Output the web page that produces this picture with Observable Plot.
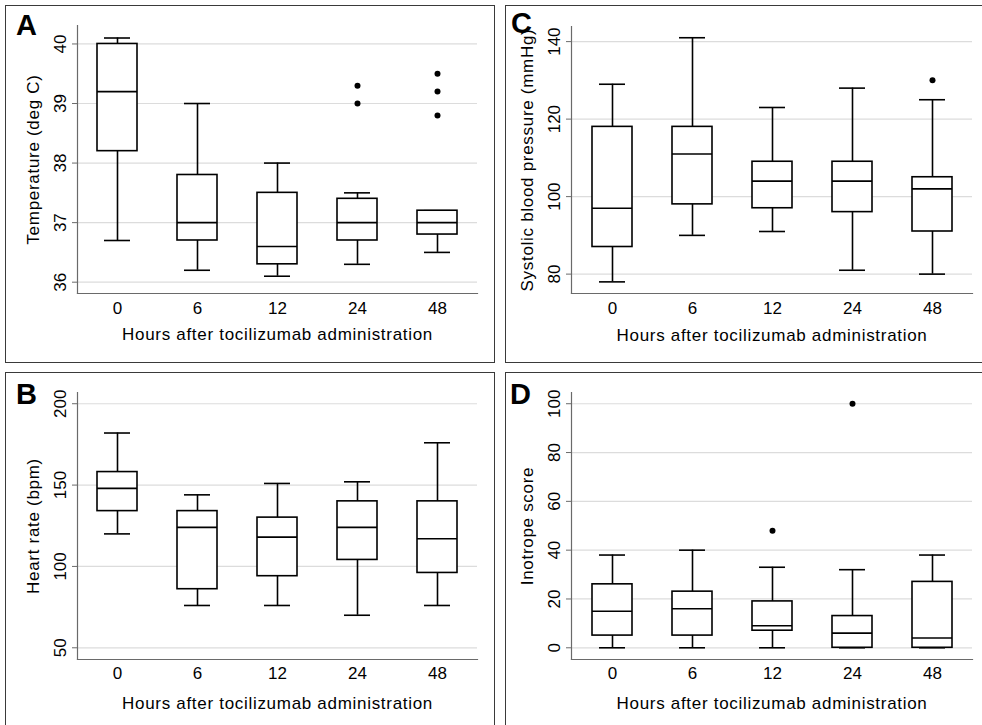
<!DOCTYPE html>
<html>
<head>
<meta charset="utf-8">
<script src="https://cdn.jsdelivr.net/npm/d3@7"></script>
<script src="https://cdn.jsdelivr.net/npm/@observablehq/plot@0.6"></script>
<style>
  html, body { margin: 0; padding: 0; background: #fff; }
  body { width: 982px; height: 725px; position: relative; overflow: hidden;
         font-family: "Liberation Sans", Arial, Helvetica, sans-serif; }
  .frame { position: absolute; border: 1.3px solid #3a3a3a; box-sizing: border-box; }
  .slot { position: absolute; }
  .letter { position: absolute; font-weight: bold; font-size: 29px; line-height: 29px; color: #000; }
</style>
</head>
<body>
<div class="frame" style="left:5px;top:5px;width:490px;height:358px"></div>
<div class="frame" style="left:505px;top:5px;width:490px;height:358px"></div>
<div class="frame" style="left:5px;top:372px;width:490px;height:370px"></div>
<div class="frame" style="left:505px;top:372px;width:490px;height:370px"></div>
<div class="slot" id="pA" style="left:6px;top:6px"></div>
<div class="slot" id="pC" style="left:506px;top:6px"></div>
<div class="slot" id="pB" style="left:6px;top:373px"></div>
<div class="slot" id="pD" style="left:506px;top:373px"></div>
<div class="letter" style="left:16px;top:11px">A</div>
<div class="letter" style="left:511px;top:9px">C</div>
<div class="letter" style="left:16px;top:380px">B</div>
<div class="letter" style="left:510px;top:380px">D</div>
<script>
// ---- data ----
const hours = ["0", "6", "12", "24", "48"];
const xTitle = "Hours after tocilizumab administration";

// A: Temperature (deg C)
const tempLo  = [36.7, 36.2, 36.1, 36.3, 36.5];
const tempQ1  = [38.2, 36.7, 36.3, 36.7, 36.8];
const tempMed = [39.2, 37.0, 36.6, 37.0, 37.0];
const tempQ3  = [40.0, 37.8, 37.5, 37.4, 37.2];
const tempHi  = [40.1, 39.0, 38.0, 37.5, 37.2];
const tempOutHour = ["24", "24", "48", "48", "48"];
const tempOutVal  = [39.0, 39.3, 38.8, 39.2, 39.5];
const tempTicks = [36, 37, 38, 39, 40];

// B: Heart rate (bpm)
const hrLo  = [120, 76, 76, 70, 76];
const hrQ1  = [134, 86, 94, 104, 96];
const hrMed = [148, 124, 118, 124, 117];
const hrQ3  = [158, 134, 130, 140, 140];
const hrHi  = [182, 144, 151, 152, 176];
const hrOutHour = [];
const hrOutVal  = [];
const hrTicks = [50, 100, 150, 200];

// C: Systolic blood pressure (mmHg)
const sbpLo  = [78, 90, 91, 81, 80];
const sbpQ1  = [87, 98, 97, 96, 91];
const sbpMed = [97, 111, 104, 104, 102];
const sbpQ3  = [118, 118, 109, 109, 105];
const sbpHi  = [129, 141, 123, 128, 125];
const sbpOutHour = ["48"];
const sbpOutVal  = [130];
const sbpTicks = [80, 100, 120, 140];

// D: Inotrope score
const inoLo  = [0, 0, 0, 0, 0];
const inoQ1  = [5, 5, 7, 0, 0];
const inoMed = [15, 16, 9, 6, 4];
const inoQ3  = [26, 23, 19, 13, 27];
const inoHi  = [38, 40, 33, 32, 38];
const inoOutHour = ["12", "24"];
const inoOutVal  = [48, 100];
const inoTicks = [0, 20, 40, 60, 80, 100];

// ---- drawing ----
const FONT = '"Liberation Sans", Arial, Helvetica, sans-serif';

function panel(cfg) {
  const stats = hours.map((h, i) => ({
    h, lo: cfg.lo[i], q1: cfg.q1[i], med: cfg.med[i], q3: cfg.q3[i], hi: cfg.hi[i]
  }));
  const outs = cfg.outHour.map((h, i) => ({h, v: cfg.outVal[i]}));
  const axisCol = "#6a6a6a";
  return Plot.plot({
    width: cfg.width,
    height: cfg.height,
    marginLeft: cfg.ml,
    marginRight: cfg.mr,
    marginTop: cfg.mt,
    marginBottom: cfg.mb,
    style: {fontFamily: FONT, fontSize: "17px", color: "#000", background: "transparent", overflow: "visible"},
    x: {type: "band", domain: hours, padding: 0, axis: null},
    y: {domain: cfg.domain, axis: null},
    marks: [
      Plot.gridY(cfg.ticks, {stroke: "#dcdcdc", strokeOpacity: 1, strokeWidth: 1.2}),
      Plot.frame({anchor: "left", stroke: axisCol, strokeWidth: 1.2}),
      Plot.frame({anchor: "bottom", stroke: axisCol, strokeWidth: 1.2}),
      Plot.axisY(cfg.ticks, {tickSize: 5, stroke: axisCol, tickFormat: () => "", label: null}),
      Plot.text(cfg.ticks, {
        y: d => d, text: d => String(d), frameAnchor: "left", dx: -17, rotate: -90,
        textAnchor: "middle", lineAnchor: "middle", fontSize: 17, fill: "#000"
      }),
      Plot.axisX(hours, {tickSize: 0, tickPadding: cfg.xpad, fontSize: 17, fill: "#000", label: null}),
      Plot.text([cfg.ylabel], {
        frameAnchor: "left", dx: -44, rotate: -90, textAnchor: "middle", lineAnchor: "middle",
        fontSize: 17, fill: "#000", style: {letterSpacing: "0.6px"}
      }),
      Plot.text([xTitle], {
        frameAnchor: "bottom", dy: cfg.xtitleDy, textAnchor: "middle", lineAnchor: "middle",
        fontSize: 17, fill: "#000"
      }),
      Plot.ruleX(stats, {x: "h", y1: "lo", y2: "q1", stroke: "#000", strokeWidth: 1.6}),
      Plot.ruleX(stats, {x: "h", y1: "q3", y2: "hi", stroke: "#000", strokeWidth: 1.6}),
      Plot.tickY(stats, {x: "h", y: "lo", insetLeft: 27, insetRight: 27, stroke: "#000", strokeWidth: 1.6}),
      Plot.tickY(stats, {x: "h", y: "hi", insetLeft: 27, insetRight: 27, stroke: "#000", strokeWidth: 1.6}),
      Plot.barY(stats, {x: "h", y1: "q1", y2: "q3", insetLeft: 20, insetRight: 20, fill: "#fff", stroke: "#000", strokeWidth: 1.6}),
      Plot.tickY(stats, {x: "h", y: "med", insetLeft: 20, insetRight: 20, stroke: "#000", strokeWidth: 1.6}),
      Plot.dot(outs, {x: "h", y: "v", r: 3, fill: "#000", stroke: "none"})
    ]
  });
}

function addPanel(id, cfg) {
  const svg = panel(cfg);
  svg.querySelectorAll("text").forEach(t => {
    if (t.textContent === xTitle || t.textContent === cfg.ylabel) t.setAttribute("letter-spacing", "0.7");
  });
  document.getElementById(id).append(svg);
}

addPanel("pA", {
  width: 488, height: 357, ml: 71, mr: 17, mt: 19, mb: 70, xpad: 8, xtitleDy: 41,
  domain: [35.81, 40.31], ticks: tempTicks, ylabel: "Temperature (deg C)",
  lo: tempLo, q1: tempQ1, med: tempMed, q3: tempQ3, hi: tempHi, outHour: tempOutHour, outVal: tempOutVal
});
addPanel("pC", {
  width: 476, height: 357, ml: 65, mr: 10, mt: 20, mb: 70, xpad: 8, xtitleDy: 42,
  domain: [75.0, 143.9], ticks: sbpTicks, ylabel: "Systolic blood pressure (mmHg)",
  lo: sbpLo, q1: sbpQ1, med: sbpMed, q3: sbpQ3, hi: sbpHi, outHour: sbpOutHour, outVal: sbpOutVal
});
addPanel("pB", {
  width: 488, height: 352, ml: 71, mr: 17, mt: 19, mb: 66, xpad: 7, xtitleDy: 44,
  domain: [42.8, 206.9], ticks: hrTicks, ylabel: "Heart rate (bpm)",
  lo: hrLo, q1: hrQ1, med: hrMed, q3: hrQ3, hi: hrHi, outHour: hrOutHour, outVal: hrOutVal
});
addPanel("pD", {
  width: 476, height: 352, ml: 65, mr: 10, mt: 19, mb: 66, xpad: 7, xtitleDy: 44,
  domain: [-4.8, 104.6], ticks: inoTicks, ylabel: "Inotrope score",
  lo: inoLo, q1: inoQ1, med: inoMed, q3: inoQ3, hi: inoHi, outHour: inoOutHour, outVal: inoOutVal
});
</script>
</body>
</html>
